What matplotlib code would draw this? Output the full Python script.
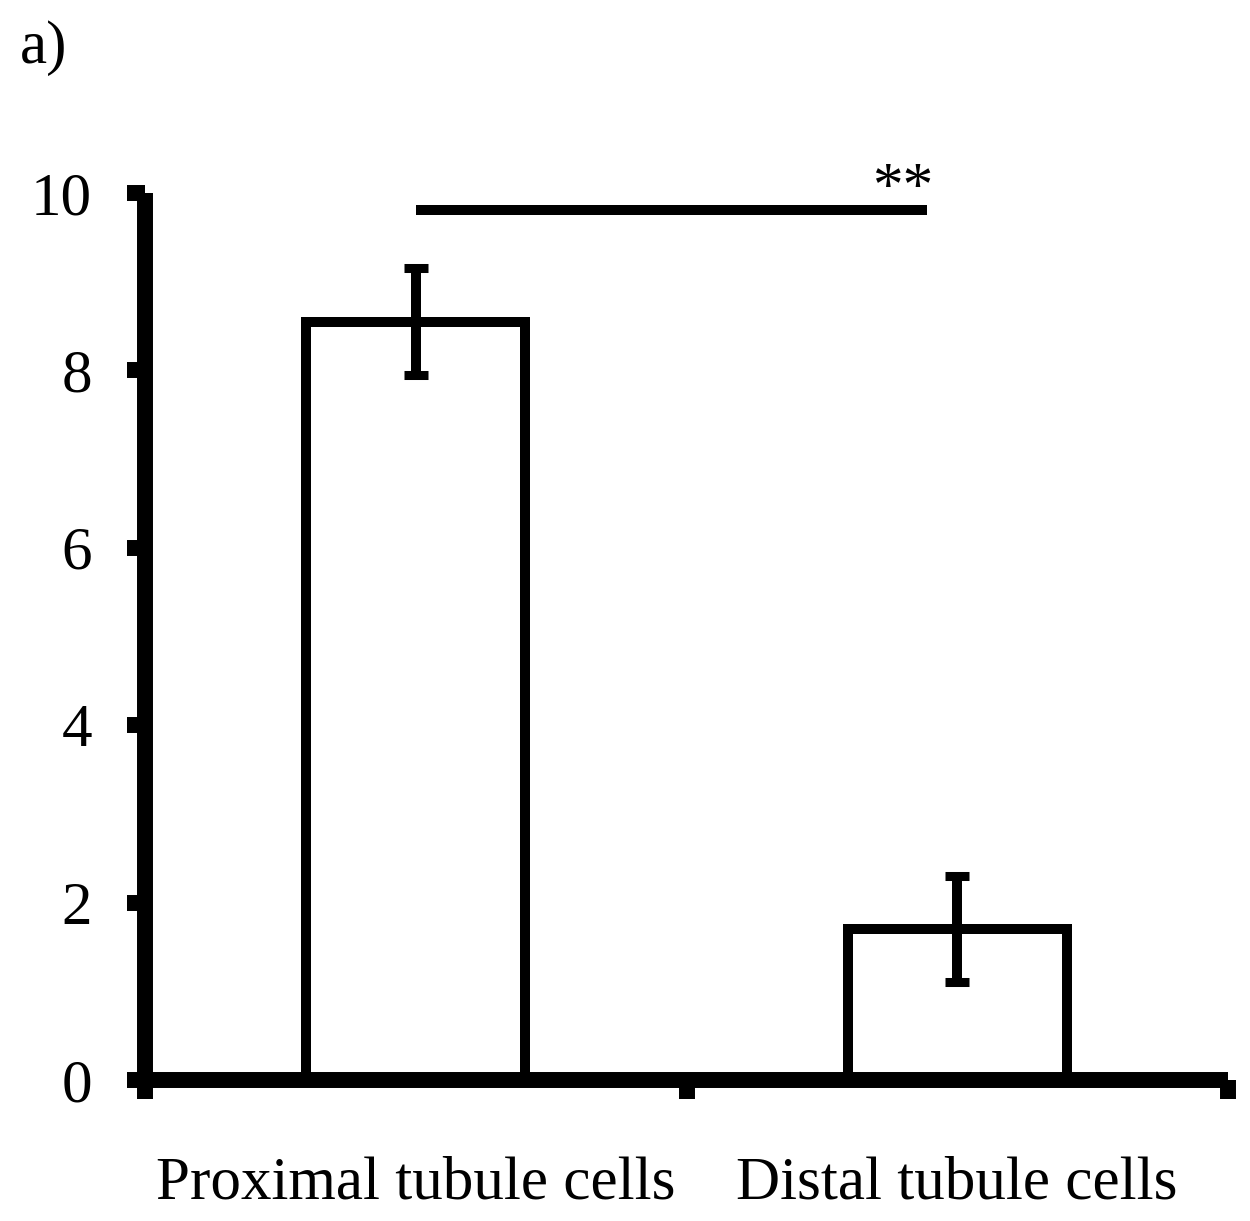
import matplotlib
matplotlib.use("Agg")
import matplotlib.pyplot as plt
from matplotlib.ticker import FixedLocator

# values
categories = ["Proximal tubule cells", "Distal tubule cells"]
means = [8.55, 1.70]
errors = [0.60, 0.60]
y_ticks = [0, 2, 4, 6, 8, 10]
sig_label = "**"
panel_label = "a)"

plt.rcParams['font.family'] = ['Liberation Serif', 'DejaVu Serif']
FS = 44
LW_AXIS = 11.5
LW_MARK = 7.2

fig = plt.figure(figsize=(12.5, 12.21), dpi=100)
ax = fig.add_axes([0.116, 0.1155, 0.8664, 0.7265])

x = list(range(len(categories)))
ax.bar(x, means, width=0.405, color="white", edgecolor="black",
       linewidth=LW_MARK, zorder=1)
ax.errorbar(x, means, yerr=errors, fmt="none", ecolor="black",
            elinewidth=LW_MARK, capsize=8.6, capthick=6.5, zorder=3)

# significance bar
ax.plot([0, 0.945], [9.81, 9.81], color="black", lw=LW_MARK,
        solid_capstyle="butt", zorder=3, clip_on=False)
ax.text(0.90, 9.88, sig_label, ha="center", va="baseline", fontsize=FS)

ax.set_xlim(-0.5, 1.5)
ax.set_ylim(0, 10)

for side in ["top", "right"]:
    ax.spines[side].set_visible(False)
for side in ["left", "bottom"]:
    ax.spines[side].set_linewidth(LW_AXIS)
    ax.spines[side].set_capstyle("butt")
    ax.spines[side].set_zorder(4)

ax.set_yticks(y_ticks)
ax.set_yticklabels([str(t) for t in y_ticks], fontsize=FS)
ax.tick_params(axis="y", direction="out", length=13, width=LW_AXIS, pad=25)

# category boundaries get tick marks, category centres get the labels
ax.xaxis.set_major_locator(FixedLocator([-0.5, 0.5, 1.5]))
ax.xaxis.set_minor_locator(FixedLocator(x))
ax.set_xticklabels([], minor=False)
ax.set_xticklabels(categories, minor=True, fontsize=FS)
ax.tick_params(axis="x", which="major", direction="out", length=14,
               width=LW_AXIS)
ax.tick_params(axis="x", which="minor", length=0, pad=55)

fig.text(20 / 1250, (1221 - 63) / 1221, panel_label, fontsize=FS,
         ha="left", va="baseline")

fig.savefig("out.png", dpi=100, facecolor="white")
